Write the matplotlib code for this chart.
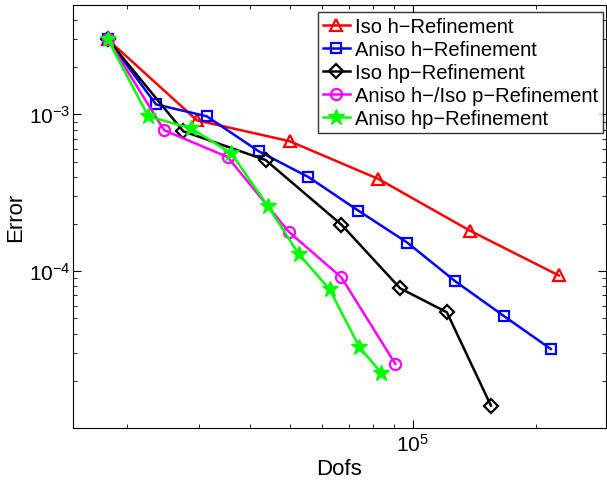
import matplotlib
matplotlib.use("Agg")
import matplotlib.pyplot as plt
from matplotlib.ticker import LogLocator, NullFormatter

plt.rcParams['font.family'] = ['Liberation Sans', 'DejaVu Sans']
plt.rcParams['mathtext.fontset'] = 'custom'
plt.rcParams['mathtext.rm'] = 'Liberation Sans'

iso_h_x = [1.80e4, 2.97e4, 5.0e4, 8.24e4, 1.379e5, 2.27e5]
iso_h_y = [3.0e-3, 9.16e-4, 6.74e-4, 3.87e-4, 1.81e-4, 9.39e-5]

aniso_h_x = [1.80e4, 2.36e4, 3.14e4, 4.20e4, 5.56e4, 7.36e4, 9.69e4, 1.27e5, 1.67e5, 2.17e5]
aniso_h_y = [3.0e-3, 1.157e-3, 9.71e-4, 5.82e-4, 3.98e-4, 2.43e-4, 1.52e-4, 8.6e-5, 5.16e-5, 3.19e-5]

iso_hp_x = [1.80e4, 2.75e4, 4.37e4, 6.69e4, 9.31e4, 1.21e5, 1.55e5]
iso_hp_y = [3.0e-3, 7.8e-4, 5.11e-4, 1.98e-4, 7.77e-5, 5.47e-5, 1.39e-5]

aniso_h_iso_p_x = [1.80e4, 2.47e4, 3.53e4, 4.97e4, 6.69e4, 9.06e4]
aniso_h_iso_p_y = [3.0e-3, 7.92e-4, 5.34e-4, 1.79e-4, 9.12e-5, 2.56e-5]

aniso_hp_x = [1.80e4, 2.26e4, 2.87e4, 3.60e4, 4.42e4, 5.26e4, 6.26e4, 7.4e4, 8.37e4]
aniso_hp_y = [3.0e-3, 9.71e-4, 8.15e-4, 5.66e-4, 2.61e-4, 1.29e-4, 7.66e-5, 3.28e-5, 2.25e-5]

labels = ["Iso h\u2212Refinement", "Aniso h\u2212Refinement", "Iso hp\u2212Refinement",
          "Aniso h\u2212/Iso p\u2212Refinement", "Aniso hp\u2212Refinement"]

fig = plt.figure(figsize=(6.07, 4.81), dpi=100)
ax = fig.add_axes([73/607, 1-429/481, (606-73)/607, (429-5.7)/481])

lw = 1.8
ax.plot(iso_h_x, iso_h_y, color='#ff0000', lw=lw, marker='^', ms=9, mfc='none', mew=1.6, label=labels[0])
ax.plot(aniso_h_x, aniso_h_y, color='#0000ff', lw=lw, marker='s', ms=7, mfc='none', mew=1.6, label=labels[1])
ax.plot(iso_hp_x, iso_hp_y, color='black', lw=lw, marker='D', ms=7, mfc='none', mew=1.6, label=labels[2])
ax.plot(aniso_h_iso_p_x, aniso_h_iso_p_y, color='#ff00ff', lw=lw, marker='o', ms=8, mfc='none', mew=1.6, label=labels[3])
ax.plot(aniso_hp_x, aniso_hp_y, color='#00ff00', lw=lw, marker='*', ms=12, mfc='#00ff00', mew=1, label=labels[4])

ax.set_xscale('log')
ax.set_yscale('log')
ax.set_xlim(1.48e4, 2.96e5)
ax.set_ylim(1e-5, 5e-3)
ax.set_xticks([1e5])
ax.set_yticks([1e-4, 1e-3])
ax.xaxis.set_minor_locator(LogLocator(base=10, subs=range(2, 10)))
ax.yaxis.set_minor_locator(LogLocator(base=10, subs=range(2, 10)))
ax.xaxis.set_minor_formatter(NullFormatter())
ax.yaxis.set_minor_formatter(NullFormatter())
ax.tick_params(which='both', direction='in', top=True, right=True, labelsize=15)
ax.tick_params(axis='y', which='major', pad=2)
ax.tick_params(which='major', length=6)
ax.tick_params(which='minor', length=3)

ax.set_xlabel('Dofs', fontsize=16, labelpad=2)
ax.set_ylabel('Error', fontsize=16, labelpad=2)

leg = ax.legend(loc='upper right', bbox_to_anchor=(0.9944, 0.9828), fontsize=14.5,
                frameon=True, fancybox=False, edgecolor='black', borderpad=0.25,
                labelspacing=0.2, handlelength=1.35, handletextpad=0.25, borderaxespad=0)
leg.get_frame().set_linewidth(1.0)

fig.savefig('out.png', dpi=100)
